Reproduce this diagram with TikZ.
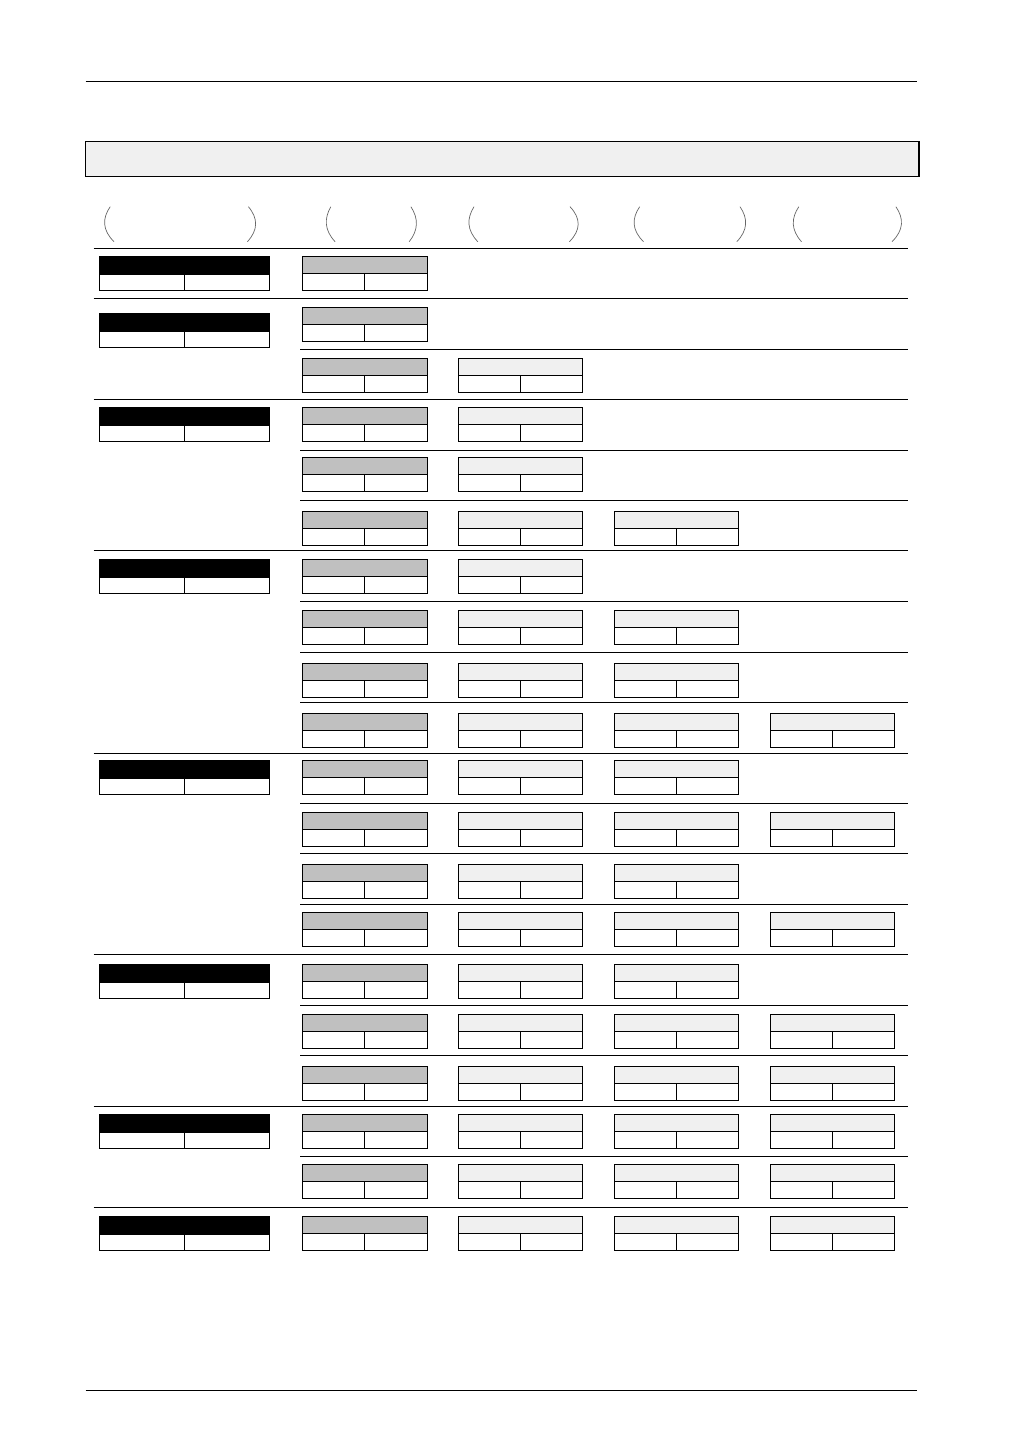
\documentclass[tikz,border=0pt]{standalone}
\definecolor{hgray}{HTML}{C0C0C0}
\definecolor{hlight}{HTML}{F0F0F0}
\tikzset{
  rule/.style={line width=1.2pt, black},
  boxline/.style={line width=1.2pt, black},
  paren/.style={line width=0.7pt, black!60},
}
% x1, x2, y, fill, header height, total height
\newcommand{\cbox}[6]{%
  \fill[#4] (#1,#3) rectangle (#2,#3+#5);
  \draw[boxline] (#1,#3) rectangle (#2,#3+#6);
  \draw[boxline] (#1,#3+#5) -- (#2,#3+#5);
  \draw[boxline] ({(#1+#2)/2},#3+#5) -- ({(#1+#2)/2},#3+#6);
}
\newcommand{\blackbox}[1]{\cbox{99.3}{269.7}{#1}{black}{18}{34}}
\newcommand{\grow}[2]{%
  \cbox{302.3}{427.3}{#1}{hgray}{17}{34}
  \ifnum#2>0 \cbox{458.3}{582.3}{#1}{hlight}{17}{34}\fi
  \ifnum#2>1 \cbox{614.3}{738.3}{#1}{hlight}{17}{34}\fi
  \ifnum#2>2 \cbox{770.3}{894.5}{#1}{hlight}{17}{34}\fi
}
\newcommand{\fullsep}[1]{\draw[rule] (93.5,#1) -- (908,#1);}
\newcommand{\subsep}[1]{\draw[rule] (300,#1) -- (908,#1);}
\begin{document}
\begin{tikzpicture}[x=1pt,y=-1pt]
\useasboundingbox (0,0) rectangle (1032,1456);
% page rules
\draw[rule] (85.5,81.3) -- (916.5,81.3);
\draw[rule] (85.5,1390.3) -- (916.5,1390.3);
% banner
\draw[line width=1.4pt, fill=hlight] (85.5,141.3) rectangle (919,176.3);
% parentheses
\draw[paren] (110.2,206.7) .. controls (102.2,218.4) and (102.2,230) .. (114,241.7);
\draw[paren] (248.4,206.7) .. controls (258.2,218.4) and (258.2,230) .. (247.4,241.7);
\draw[paren] (330.8,206.7) .. controls (324.2,218.4) and (324.2,230) .. (335.1,241.7);
\draw[paren] (410.9,206.7) .. controls (418.5,218.4) and (418.5,230) .. (409.2,241.7);
\draw[paren] (474,206.7) .. controls (466.7,218.4) and (466.7,230) .. (477.8,241.7);
\draw[paren] (570,206.7) .. controls (581,218.4) and (581,230) .. (569.4,241.7);
\draw[paren] (639.7,206.7) .. controls (631.7,218.4) and (631.7,230) .. (643.5,241.7);
\draw[paren] (740,206.7) .. controls (748,218.4) and (748,230) .. (736.8,241.7);
\draw[paren] (798.8,206.7) .. controls (791,218.4) and (791,230) .. (801.5,241.7);
\draw[paren] (895.9,206.7) .. controls (903.9,218.4) and (903.9,230) .. (892,241.7);
% group 1
\fullsep{248.3} \blackbox{256.3} \grow{256.3}{0}
% group 2
\fullsep{298.3} \blackbox{313.3} \grow{307.3}{0}
\subsep{349.3} \grow{358.3}{1}
% group 3
\fullsep{399.3} \blackbox{407.3} \grow{407.3}{1}
\subsep{450.3} \grow{457.3}{1}
\subsep{500.3} \grow{511.3}{2}
% group 4
\fullsep{550.3} \blackbox{559.3} \grow{559.3}{1}
\subsep{601.3} \grow{610.3}{2}
\subsep{652.3} \grow{663.3}{2}
\subsep{702.3} \grow{713.3}{3}
% group 5
\fullsep{753.3} \blackbox{760.3} \grow{760.3}{2}
\subsep{803.3} \grow{812.3}{3}
\subsep{853.3} \grow{864.3}{2}
\subsep{904.3} \grow{912.3}{3}
% group 6
\fullsep{954.3} \blackbox{964.3} \grow{964.3}{2}
\subsep{1005.3} \grow{1014.3}{3}
\subsep{1055.3} \grow{1066.3}{3}
% group 7
\fullsep{1106.3} \blackbox{1114.3} \grow{1114.3}{3}
\subsep{1156.3} \grow{1164.3}{3}
% group 8
\fullsep{1207.3} \blackbox{1216.3} \grow{1216.3}{3}
\end{tikzpicture}
\end{document}
